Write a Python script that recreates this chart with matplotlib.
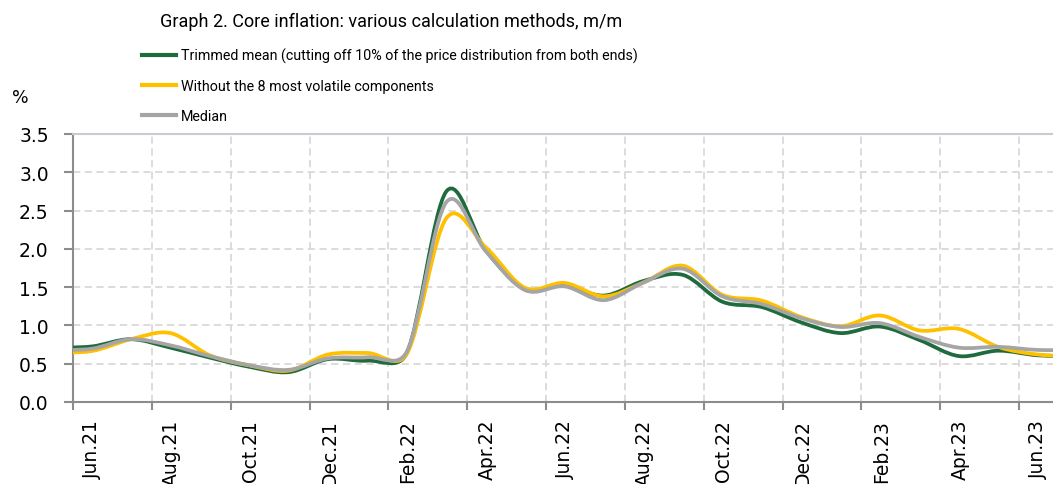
import numpy as np
import matplotlib
matplotlib.use('Agg')
import matplotlib.pyplot as plt
from matplotlib import font_manager
from matplotlib.path import Path
from matplotlib.patches import PathPatch
from matplotlib.lines import Line2D

# monthly values, May.21 .. Jul.23 (first and last only shape the curve ends)
months = ['May.21', 'Jun.21', 'Jul.21', 'Aug.21', 'Sep.21', 'Oct.21', 'Nov.21', 'Dec.21',
          'Jan.22', 'Feb.22', 'Mar.22', 'Apr.22', 'May.22', 'Jun.22', 'Jul.22', 'Aug.22',
          'Sep.22', 'Oct.22', 'Nov.22', 'Dec.22', 'Jan.23', 'Feb.23', 'Mar.23', 'Apr.23',
          'May.23', 'Jun.23', 'Jul.23']
trimmed_mean = [0.71, 0.725, 0.82, 0.71, 0.58, 0.46, 0.39, 0.56, 0.54, 0.64, 2.75, 1.98, 1.48,
                1.52, 1.39, 1.58, 1.66, 1.31, 1.24, 1.04, 0.90, 0.985, 0.81, 0.60, 0.67, 0.61, 0.60]
without_volatile = [0.65, 0.665, 0.82, 0.90, 0.61, 0.48, 0.41, 0.62, 0.64, 0.63, 2.40, 2.02, 1.49,
                    1.555, 1.38, 1.56, 1.78, 1.40, 1.325, 1.11, 0.99, 1.13, 0.935, 0.955, 0.72, 0.62, 0.60]
median = [0.68, 0.695, 0.82, 0.74, 0.60, 0.48, 0.42, 0.57, 0.585, 0.66, 2.61, 1.97, 1.46,
          1.51, 1.33, 1.56, 1.74, 1.38, 1.28, 1.095, 0.98, 1.03, 0.85, 0.71, 0.72, 0.68, 0.68]

series_labels = ['Trimmed mean (cutting off 10% of the price distribution from both ends)',
                 'Without the 8 most volatile components',
                 'Median']
colors = ['#1f6b3e', '#ffc000', '#a5a5a5']
tick_labels = ['Jun.21', 'Aug.21', 'Oct.21', 'Dec.21', 'Feb.22', 'Apr.22', 'Jun.22',
               'Aug.22', 'Oct.22', 'Dec.22', 'Feb.23', 'Apr.23', 'Jun.23']

names = {f.name for f in font_manager.fontManager.ttflist}
text_font = 'Liberation Sans Narrow' if 'Liberation Sans Narrow' in names else 'Roboto'


def handle(v, d12):
    d = np.hypot(*v)
    if d == 0:
        return v * 0
    return v / d * min(d / 6, d12 / 2)


def smooth_path(x, y, yscale):
    """Excel-like smoothed line as a chain of cubic Bezier segments."""
    pts = np.column_stack([x, np.asarray(y, dtype=float) * yscale])
    n = len(pts)
    verts = [pts[0]]
    codes = [Path.MOVETO]
    for i in range(n - 1):
        p0 = pts[max(i - 1, 0)]
        p1, p2 = pts[i], pts[i + 1]
        p3 = pts[min(i + 2, n - 1)]
        d12 = np.hypot(*(p2 - p1))
        verts += [p1 + handle(p2 - p0, d12), p2 - handle(p3 - p1, d12), p2]
        codes += [Path.CURVE4] * 3
    verts = np.array(verts)
    verts[:, 1] /= yscale
    return Path(verts, codes)


W, H = 1053, 485
fig = plt.figure(figsize=(W / 100, H / 100), dpi=100)
ax = fig.add_axes([73 / W, 1 - 403 / H, 1 - 73 / W, 268 / H])

# data points sit mid-month, gridlines at month starts
pos = np.arange(len(months)) - 1 + 0.47
yscale = 76.7 / 39.42
for vals, c in zip([trimmed_mean, without_volatile, median], colors):
    ax.add_patch(PathPatch(smooth_path(pos, vals, yscale), fill=False, edgecolor=c,
                           lw=2.7, capstyle='round', joinstyle='round', zorder=3))

ax.set_xlim(0, 24.86)
ax.set_ylim(0, 3.5)
ax.set_yticks(np.arange(0, 3.51, 0.5))
ax.set_yticklabels(['%.1f' % v for v in np.arange(0, 3.51, 0.5)])
ax.set_xticks(np.arange(0, 25, 2))
ax.set_xticklabels([])
ax.set_xticks(np.arange(0, 25, 2) + 0.5, minor=True)
ax.set_xticklabels(tick_labels, minor=True, rotation=90)

ax.tick_params(axis='y', direction='out', length=6.5, width=1.5, color='#8c8c8c',
               pad=11, labelsize=13.5, labelcolor='black')
ax.tick_params(axis='x', which='major', direction='out', length=6, width=1.5, color='#8c8c8c')
ax.tick_params(axis='x', which='minor', length=0, pad=12, labelsize=13.5)

ax.grid(True, which='major', color='#d9d9d9', lw=1.3, ls=(0, (4, 2.5)), zorder=0)
for s in ['left', 'bottom']:
    ax.spines[s].set_color('#8c8c8c')
    ax.spines[s].set_linewidth(1.5)
ax.spines['top'].set_color('#cacad2')
ax.spines['top'].set_linewidth(1.5)
ax.spines['right'].set_visible(False)

fig.text(391 / W, 1 - 22 / H, 'Graph 2. Core inflation: various calculation methods, m/m',
         ha='center', va='center', fontsize=13, family=text_font)
fig.text(20 / W, 1 - 98.5 / H, '%', ha='center', va='center', fontsize=12.5)

handles = [Line2D([0], [0], color=c, lw=3) for c in colors]
fig.legend(handles, series_labels, loc='upper left', bbox_to_anchor=(142 / W, 1 - 49 / H),
           frameon=False, borderpad=0, borderaxespad=0, handlelength=2.4,
           handletextpad=0.3, labelspacing=1.12, prop={'family': text_font, 'size': 10.3})

fig.savefig('out.png', dpi=100)
